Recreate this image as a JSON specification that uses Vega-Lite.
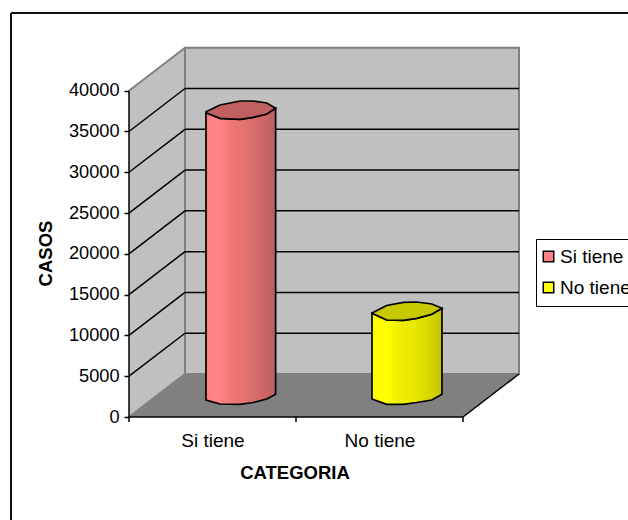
{
"$schema":"https://vega.github.io/schema/vega-lite/v6.json",
"width":390,"height":370,
"autosize":{"type":"none"},
"padding":{"left":129,"top":47,"right":109,"bottom":103},
"background":"white",
"view":{"stroke":null},
"config":{"font":"Liberation Sans"},
"datasets":{
"pared":[{"x":0,"casos":40000,"casos2":0},{"x":0.3353,"casos":45270,"casos2":5270}],
"fondo":[{"x":0.3353,"x2":2.3353,"casos":5270,"casos2":45270}],
"piso":[{"x":0,"casos":0,"casos2":0},{"x":0.3353,"casos":5270,"casos2":0},{"x":2,"casos":5270,"casos2":0},{"x":2.3353,"casos":5270,"casos2":5270}],
"rejilla":[
{"x":0,"x2":0.3353,"casos":5000,"casos2":10270},{"x":0,"x2":0.3353,"casos":10000,"casos2":15270},{"x":0,"x2":0.3353,"casos":15000,"casos2":20270},{"x":0,"x2":0.3353,"casos":20000,"casos2":25270},{"x":0,"x2":0.3353,"casos":25000,"casos2":30270},{"x":0,"x2":0.3353,"casos":30000,"casos2":35270},{"x":0,"x2":0.3353,"casos":35000,"casos2":40270},
{"x":0.3353,"x2":2.3353,"casos":10270,"casos2":10270},{"x":0.3353,"x2":2.3353,"casos":15270,"casos2":15270},{"x":0.3353,"x2":2.3353,"casos":20270,"casos2":20270},{"x":0.3353,"x2":2.3353,"casos":25270,"casos2":25270},{"x":0.3353,"x2":2.3353,"casos":30270,"casos2":30270},{"x":0.3353,"x2":2.3353,"casos":35270,"casos2":35270},{"x":0.3353,"x2":2.3353,"casos":40270,"casos2":40270}
],
"bordes":[
{"x":0,"x2":0.3353,"casos":40000,"casos2":45270},{"x":0,"x2":0.3353,"casos":0,"casos2":5270}
],
"ejes":[
{"x":0,"x2":0,"casos":0,"casos2":40000},{"x":0,"x2":2,"casos":0,"casos2":0},{"x":2,"x2":2.3353,"casos":0,"casos2":5270},
{"x":0,"x2":0,"casos":0,"casos2":-613},{"x":1,"x2":1,"casos":0,"casos2":-613},{"x":2,"x2":2,"casos":0,"casos2":-613}
],
"marco":[{"x":-0.7066,"x2":-0.7066,"casos":49526,"casos2":-12627},{"x":-0.7066,"x2":2.99,"casos":49526,"casos2":49526}],
"barras":[{"categoria":"Si tiene","casos":34800,"x":0.461,"x2":0.878},{"categoria":"No tiene","casos":10180,"x":1.455,"x2":1.874}],
"cuerpoSi":[{"x":0.461,"casos":37304,"casos2":2084},{"x":0.545,"casos":36618,"casos2":1594},{"x":0.665,"casos":36495,"casos2":1557},{"x":0.743,"casos":36740,"casos2":1778},{"x":0.825,"casos":37145,"casos2":2207},{"x":0.878,"casos":37843,"casos2":2783}],
"tapaSi":[{"x":0.461,"casos":37427,"casos2":37304},{"x":0.545,"casos":38248,"casos2":36618},{"x":0.665,"casos":38738,"casos2":36495},{"x":0.743,"casos":38738,"casos2":36740},{"x":0.825,"casos":38493,"casos2":37145},{"x":0.878,"casos":37843,"casos2":37843}],
"cuerpoNo":[{"x":1.455,"casos":12713,"casos2":2207},{"x":1.543,"casos":11891,"casos2":1557},{"x":1.643,"casos":11855,"casos2":1557},{"x":1.723,"casos":12100,"casos2":1778},{"x":1.813,"casos":12590,"casos2":2084},{"x":1.874,"casos":13326,"casos2":2783}],
"tapaNo":[{"x":1.455,"casos":12749,"casos2":12713},{"x":1.543,"casos":13669,"casos2":11891},{"x":1.643,"casos":14061,"casos2":11855},{"x":1.723,"casos":14098,"casos2":12100},{"x":1.813,"casos":13853,"casos2":12590},{"x":1.874,"casos":13326,"casos2":13326}]
},
"encoding":{
"x":{"field":"x","type":"quantitative","title":"CATEGORIA","scale":{"domain":[0,2.3353],"nice":false,"zero":false},
"axis":{"values":[0.5,1.5],"ticks":false,"domain":false,"grid":false,"labelExpr":"datum.value==0.5?'Si tiene':'No tiene'","labelFontSize":19,"labelColor":"black","labelPadding":14,"labelFlush":false,"labelOverlap":false,"titleFontSize":18.5,"titleFontWeight":"bold","titleColor":"black","titleX":165.5,"titleY":55,"titleBaseline":"middle"}},
"y":{"field":"casos","type":"quantitative","title":"CASOS","scale":{"domain":[0,45357],"nice":false,"zero":false},
"axis":{"values":[0,5000,10000,15000,20000,25000,30000,35000,40000],"format":"d","tickColor":"black","tickSize":5,"tickWidth":1.5,"domain":false,"grid":false,"labelFontSize":18.2,"labelColor":"black","labelPadding":5,"labelFlush":false,"labelOverlap":false,"titleFontSize":18.5,"titleFontWeight":"bold","titleColor":"black","titleX":-84,"titleY":206,"titleAngle":-90,"titleBaseline":"middle","titleAlign":"center"}}
},
"layer":[
{"data":{"name":"marco"},"mark":{"type":"rule","color":"#111111","strokeWidth":2},"encoding":{"x2":{"field":"x2"},"y2":{"field":"casos2"}}},
{"data":{"name":"pared"},"mark":{"type":"area","fill":"#C0C0C0"},"encoding":{"y2":{"field":"casos2"}}},
{"data":{"name":"piso"},"mark":{"type":"area","fill":"#808080"},"encoding":{"y2":{"field":"casos2"}}},
{"data":{"name":"fondo"},"mark":{"type":"rect","fill":"#C0C0C0","stroke":"#808080","strokeWidth":2},"encoding":{"x2":{"field":"x2"},"y2":{"field":"casos2"}}},
{"data":{"name":"rejilla"},"mark":{"type":"rule","color":"#000000","strokeWidth":1.5},"encoding":{"x2":{"field":"x2"},"y2":{"field":"casos2"}}},
{"data":{"name":"bordes"},"mark":{"type":"rule","color":"#808080","strokeWidth":2},"encoding":{"x2":{"field":"x2"},"y2":{"field":"casos2"}}},
{"data":{"name":"ejes"},"mark":{"type":"rule","color":"#000000","strokeWidth":1.5},"encoding":{"x2":{"field":"x2"},"y2":{"field":"casos2"}}},
{"data":{"name":"barras"},"mark":{"type":"rect","yOffset":-22,"y2Offset":-22},"encoding":{"x2":{"field":"x2"},"y2":{"datum":0},
"color":{"field":"categoria","type":"nominal","scale":{"domain":["Si tiene","No tiene"],"range":["#FF8080","#FFFF00"]},
"legend":{"title":null,"orient":"none","legendX":407,"legendY":192,"symbolType":"square","symbolSize":110,"symbolStrokeColor":"#000000","symbolStrokeWidth":1.5,"symbolOffset":-5,"labelFontSize":19,"labelColor":"black","labelLimit":200,"labelOffset":2,"rowPadding":11,"padding":8,"strokeColor":"#000000","fillColor":"white"}}}},
{"data":{"name":"cuerpoSi"},"mark":{"type":"area","stroke":"#000000","strokeWidth":1.7,"fill":{"gradient":"linear","x1":0,"y1":0,"x2":1,"y2":0,"stops":[{"offset":0,"color":"#FF8080"},{"offset":0.2,"color":"#FF8585"},{"offset":0.35,"color":"#F07878"},{"offset":0.55,"color":"#E57272"},{"offset":0.75,"color":"#D46A6A"},{"offset":1,"color":"#BC5E5E"}]}},"encoding":{"y2":{"field":"casos2"}}},
{"data":{"name":"tapaSi"},"mark":{"type":"area","fill":"#C06060","stroke":"#000000","strokeWidth":1.7},"encoding":{"y2":{"field":"casos2"}}},
{"data":{"name":"cuerpoNo"},"mark":{"type":"area","stroke":"#000000","strokeWidth":1.7,"fill":{"gradient":"linear","x1":0,"y1":0,"x2":1,"y2":0,"stops":[{"offset":0,"color":"#FFFF00"},{"offset":0.22,"color":"#FFFF00"},{"offset":0.35,"color":"#F0F000"},{"offset":0.6,"color":"#E8E800"},{"offset":0.8,"color":"#D8D800"},{"offset":1,"color":"#C4C400"}]}},"encoding":{"y2":{"field":"casos2"}}},
{"data":{"name":"tapaNo"},"mark":{"type":"area","fill":"#C8C800","stroke":"#000000","strokeWidth":1.7},"encoding":{"y2":{"field":"casos2"}}}
]
}
